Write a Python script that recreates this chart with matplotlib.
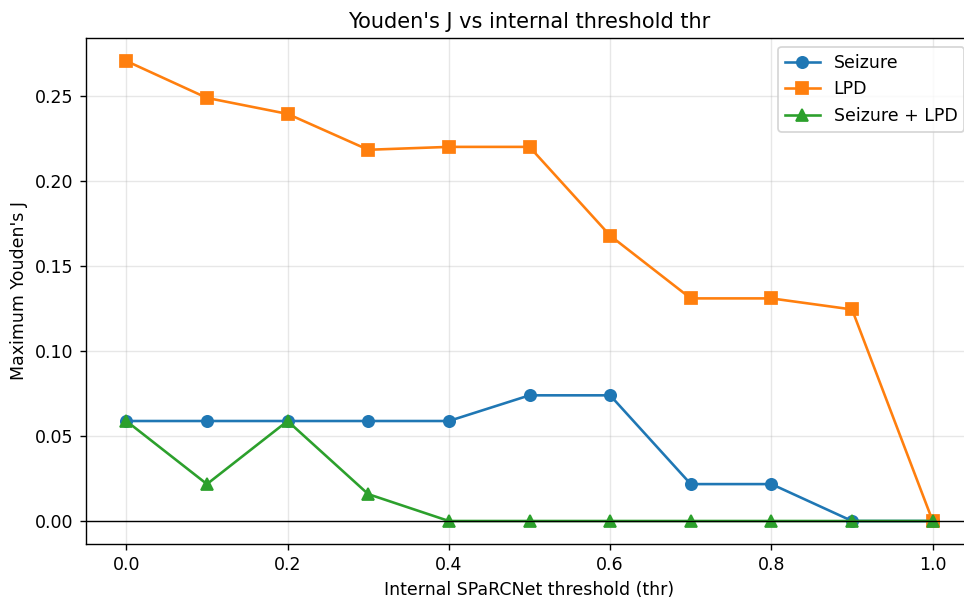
import matplotlib
matplotlib.use("Agg")
import matplotlib.pyplot as plt

thr = [0.0, 0.1, 0.2, 0.3, 0.4, 0.5, 0.6, 0.7, 0.8, 0.9, 1.0]
seizure = [0.0588, 0.0588, 0.0588, 0.0588, 0.0588, 0.0739, 0.0739, 0.0217, 0.0217, 0.0, 0.0]
lpd = [0.2705, 0.2488, 0.2394, 0.2183, 0.2200, 0.2200, 0.1678, 0.1309, 0.1309, 0.1244, 0.0]
combined = [0.0588, 0.0217, 0.0588, 0.0158, 0.0, 0.0, 0.0, 0.0, 0.0, 0.0, 0.0]

DPI = 125
fig, ax = plt.subplots(figsize=(964 / DPI, 599 / DPI), dpi=DPI)
ax.plot(thr, seizure, marker="o", markersize=6.5, label="Seizure")
ax.plot(thr, lpd, marker="s", markersize=6.5, label="LPD")
ax.plot(thr, combined, marker="^", markersize=6.5, label="Seizure + LPD")
ax.axhline(0, color="black", linewidth=0.8)
ax.set_xlabel("Internal SPaRCNet threshold (thr)")
ax.set_ylabel("Maximum Youden's J")
ax.set_title("Youden's J vs internal threshold thr")
ax.grid(True, alpha=0.3)
ax.legend(loc="upper right")
fig.subplots_adjust(left=86 / 964, right=973 / 964, top=1 - 38 / 599, bottom=1 - 544 / 599)
fig.savefig("out.png", dpi=DPI)
